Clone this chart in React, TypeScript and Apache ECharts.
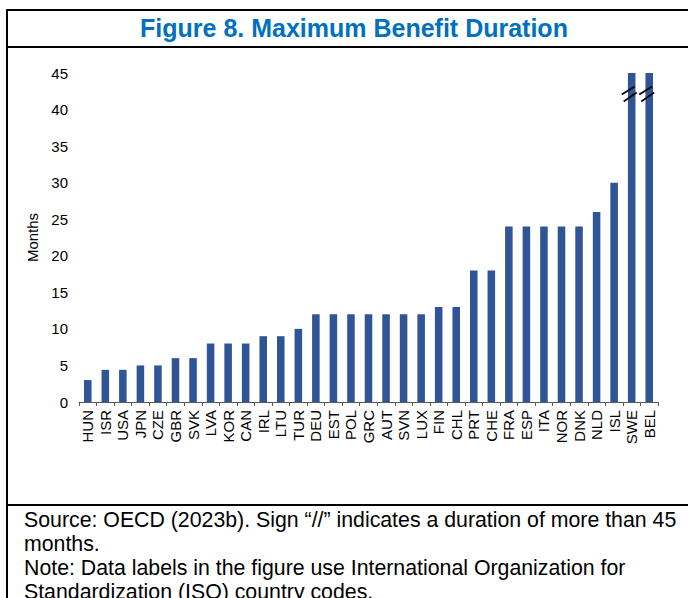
import React, { useEffect, useRef } from "react";
import * as echarts from "echarts";

const categories = ["HUN","ISR","USA","JPN","CZE","GBR","SVK","LVA","KOR","CAN","IRL","LTU","TUR","DEU","EST","POL","GRC","AUT","SVN","LUX","FIN","CHL","PRT","CHE","FRA","ESP","ITA","NOR","DNK","NLD","ISL","SWE","BEL"];
const months = [3,4.4,4.4,5,5,6,6,8,8,8,9,9,10,12,12,12,12,12,12,12,13,13,18,18,24,24,24,24,24,26,30,45,45];
const breakCountries = ["SWE","BEL"];
const breakLevel = 42.2;
const yTicks = { min: 0, max: 45, interval: 5 };
const titleText = "Figure 8. Maximum Benefit Duration";
const footerLines = [
  "Source: OECD (2023b). Sign \u201c//\u201d indicates a duration of more than 45",
  "months.",
  "Note: Data labels in the figure use International Organization for",
  "Standardization (ISO) country codes.",
];

const FONT = "'Liberation Sans', Arial, sans-serif";

export default function App() {
  const ref = useRef<HTMLDivElement>(null);
  useEffect(() => {
    if (!ref.current) return;
    const chart = echarts.init(ref.current, null, { renderer: "svg" });
    const breakData = breakCountries.map((c) => [categories.indexOf(c), breakLevel]);
    chart.setOption({
      animation: false,
      backgroundColor: "#ffffff",
      textStyle: { fontFamily: FONT },
      grid: { left: 79, right: 30, top: 73, bottom: 196 },
      xAxis: {
        type: "category",
        data: categories,
        axisLine: { lineStyle: { color: "#595959", width: 1 } },
        axisTick: { show: true, length: 4, lineStyle: { color: "#595959" } },
        axisLabel: { rotate: 90, interval: 0, fontSize: 15, color: "#000", margin: 8, fontFamily: FONT },
      },
      yAxis: {
        type: "value",
        min: yTicks.min,
        max: yTicks.max,
        interval: yTicks.interval,
        name: "Months",
        nameLocation: "middle",
        nameGap: 31,
        nameTextStyle: { fontSize: 15, color: "#000", fontFamily: FONT },
        axisLine: { show: false },
        axisTick: { show: false },
        splitLine: { show: false },
        axisLabel: { fontSize: 15, color: "#000", margin: 11, fontFamily: FONT },
      },
      series: [
        {
          type: "bar",
          data: months,
          barWidth: "43%",
          itemStyle: { color: "#2F5597" },
        },
        {
          type: "custom",
          data: breakData,
          z: 10,
          renderItem: (params: any, api: any) => {
            const p = api.coord([api.value(0), api.value(1)]);
            const cx = p[0];
            const cy = p[1];
            const style = { stroke: "#000", lineWidth: 1.6 };
            return {
              type: "group",
              children: [
                { type: "line", shape: { x1: cx - 10, y1: cy + 1, x2: cx + 3, y2: cy - 7 }, style },
                { type: "line", shape: { x1: cx - 8, y1: cy + 8, x2: cx + 5, y2: cy - 1 }, style },
              ],
            };
          },
        },
      ],
      graphic: [
        { type: "line", shape: { x1: 7, y1: 10, x2: 688, y2: 10 }, style: { stroke: "#000", lineWidth: 2 } },
        { type: "line", shape: { x1: 7, y1: 47, x2: 688, y2: 47 }, style: { stroke: "#000", lineWidth: 2 } },
        { type: "line", shape: { x1: 7, y1: 505, x2: 688, y2: 505 }, style: { stroke: "#000", lineWidth: 2 } },
        { type: "line", shape: { x1: 7, y1: 9, x2: 7, y2: 598 }, style: { stroke: "#000", lineWidth: 2 } },
        {
          type: "text",
          x: 354,
          y: 28,
          style: {
            text: titleText,
            fill: "#0070C0",
            font: `bold 25px ${FONT}`,
            textAlign: "center",
            textVerticalAlign: "middle",
          },
        },
        ...footerLines.map((t, i) => ({
          type: "text",
          x: 24,
          y: 520 + i * 24,
          style: {
            text: t,
            fill: "#000",
            font: `21.3px ${FONT}`,
            textAlign: "left",
            textVerticalAlign: "middle",
          },
        })),
      ],
    });
    return () => chart.dispose();
  }, []);
  return <div ref={ref} style={{ position: "fixed", left: 0, top: 0, width: 688, height: 598 }} />;
}
